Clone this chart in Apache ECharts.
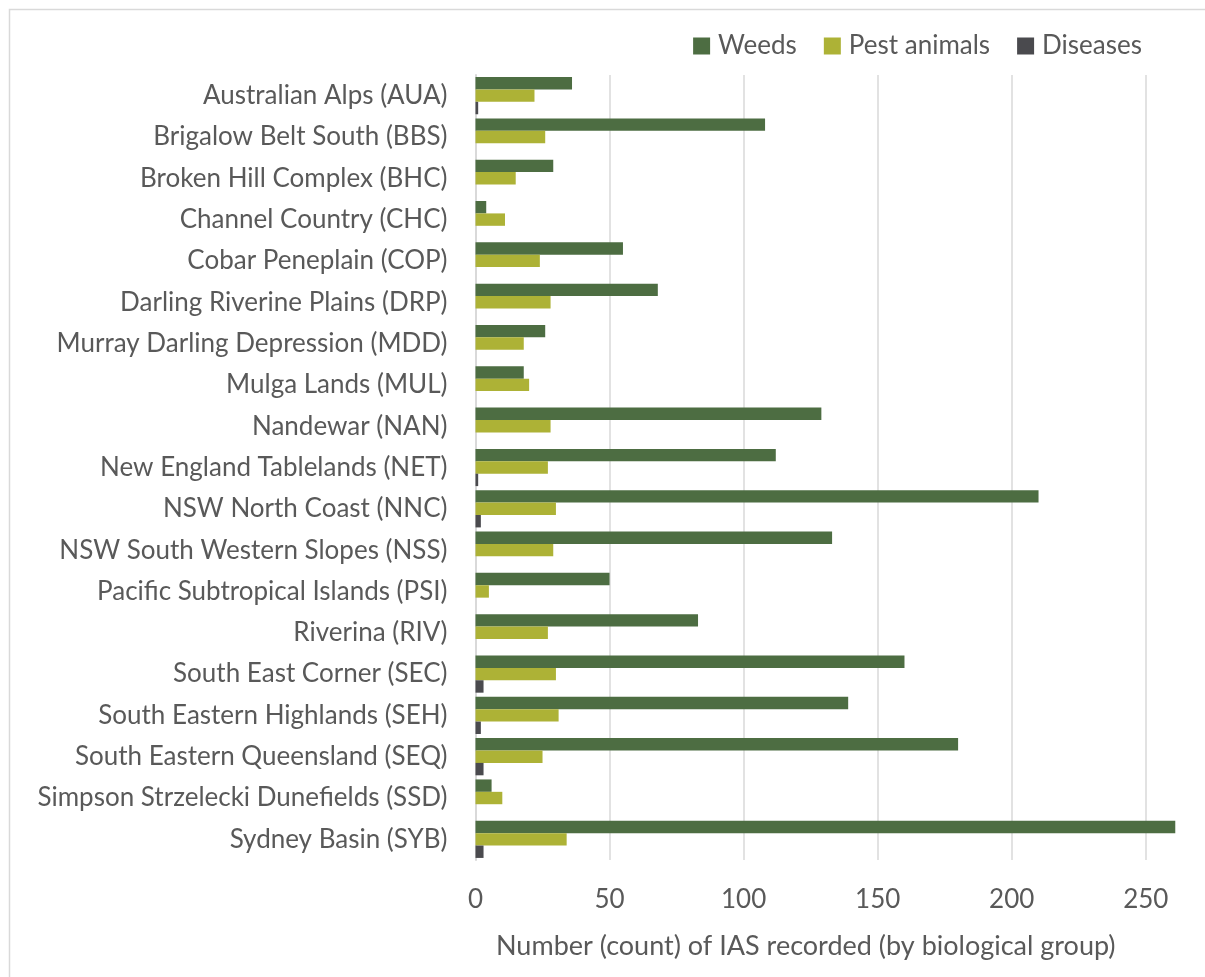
<!DOCTYPE html>
<html>
<head>
<meta charset="utf-8">
<title>IAS recorded by bioregion</title>
<script src="https://cdn.jsdelivr.net/npm/echarts@6/dist/echarts.min.js"></script>
<style>
  html, body { margin: 0; padding: 0; background: #fff; }
  #chart { width: 1205px; height: 977px; }
</style>
</head>
<body>
<div id="chart"></div>
<script>
// Bioregions, listed top to bottom
const regions = [
  'Australian Alps (AUA)',
  'Brigalow Belt South (BBS)',
  'Broken Hill Complex (BHC)',
  'Channel Country (CHC)',
  'Cobar Peneplain (COP)',
  'Darling Riverine Plains (DRP)',
  'Murray Darling Depression (MDD)',
  'Mulga Lands (MUL)',
  'Nandewar (NAN)',
  'New England Tablelands (NET)',
  'NSW North Coast (NNC)',
  'NSW South Western Slopes (NSS)',
  'Pacific Subtropical Islands (PSI)',
  'Riverina (RIV)',
  'South East Corner (SEC)',
  'South Eastern Highlands (SEH)',
  'South Eastern Queensland (SEQ)',
  'Simpson Strzelecki Dunefields (SSD)',
  'Sydney Basin (SYB)'
];

// Counts of invasive alien species per biological group
const weeds       = [36, 108, 29, 4, 55, 68, 26, 18, 129, 112, 210, 133, 50, 83, 160, 139, 180, 6, 261];
const pestAnimals = [22, 26, 15, 11, 24, 28, 18, 20, 28, 27, 30, 29, 5, 27, 30, 31, 25, 10, 34];
const diseases    = [1, 0, 0, 0, 0, 0, 0, 0, 0, 1, 2, 0, 0, 0, 3, 2, 3, 0, 3];

const xTicks = [0, 50, 100, 150, 200, 250];

const FONT = 'Lato, "Open Sans", sans-serif';
const TEXT = '#595959';
const SIZE = 26;

const chart = echarts.init(document.getElementById('chart'), null, { renderer: 'canvas' });

const bar = (name, data, color) => ({
  name,
  type: 'bar',
  data,
  itemStyle: { color },
  barGap: '0%',
  barCategoryGap: '10%'
});

chart.setOption({
  animation: false,
  backgroundColor: '#ffffff',
  textStyle: { fontFamily: FONT },
  graphic: [{
    type: 'rect',
    left: 7, top: 7,
    shape: { width: 1300, height: 1100 },
    style: { fill: 'none', stroke: '#d9d9d9', lineWidth: 1.5 },
    silent: true,
    z: -10
  }],
  legend: {
    top: 28,
    right: 58,
    itemWidth: 17,
    itemHeight: 17,
    itemGap: 27,
    icon: 'rect',
    textStyle: { color: TEXT, fontSize: SIZE, fontFamily: FONT, padding: [0, 0, 0, 3] },
    data: ['Weeds', 'Pest animals', 'Diseases']
  },
  grid: {
    left: 475.5,
    right: 19,
    top: 75,
    bottom: 117,
    containLabel: false
  },
  xAxis: {
    type: 'value',
    min: xTicks[0],
    max: 265,
    interval: xTicks[1] - xTicks[0],
    axisLine: { show: false },
    axisTick: { show: false },
    axisLabel: {
      color: TEXT,
      fontSize: SIZE,
      fontFamily: FONT,
      margin: 27,
      showMaxLabel: false,
      formatter: v => (xTicks.indexOf(v) >= 0 ? String(v) : '')
    },
    splitLine: {
      show: true,
      showMinLine: false,
      showMaxLine: false,
      lineStyle: { color: '#d9d9d9', width: 1.5 }
    },
    name: 'Number (count) of IAS recorded (by biological group)',
    nameLocation: 'middle',
    nameGap: 73,
    nameTextStyle: { color: TEXT, fontSize: 27, fontFamily: FONT, padding: [0, 50, 0, 0] }
  },
  yAxis: {
    type: 'category',
    inverse: true,
    data: regions,
    axisLine: { show: true, lineStyle: { color: '#d9d9d9', width: 2 } },
    axisTick: { show: false },
    axisLabel: { color: TEXT, fontSize: SIZE, fontFamily: FONT, margin: 28 }
  },
  series: [
    bar('Weeds', weeds, '#4d6d42'),
    bar('Pest animals', pestAnimals, '#adb236'),
    bar('Diseases', diseases, '#4a4a4e')
  ]
});
</script>
</body>
</html>
